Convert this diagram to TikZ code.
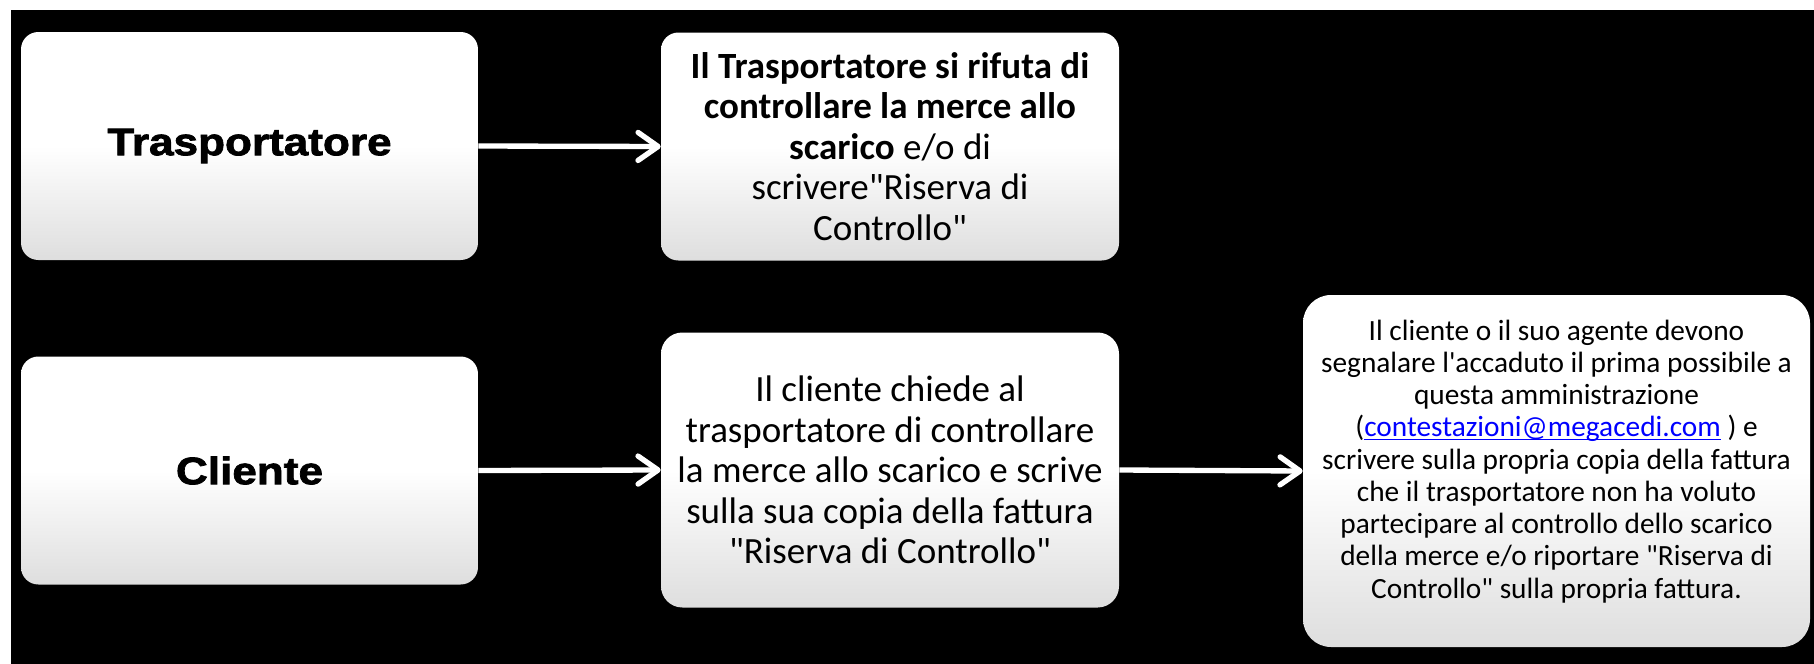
\documentclass[tikz,border=0pt]{standalone}
\usepackage{fontspec}
\setmainfont{Carlito}[Ligatures=TeXOff]
\newfontfamily\heavyfont{Liberation Sans}[FakeStretch=1.15, BoldFeatures={FakeBold=2}]
\usetikzlibrary{arrows.meta}
\definecolor{boxgray}{RGB}{222,222,222}
\definecolor{linkblue}{RGB}{0,0,255}
\newcommand\mailto[1]{{\color{linkblue}\setbox0\hbox{#1}\rlap{\smash{\raisebox{-2.6pt}{\rule{\wd0}{0.9pt}}}}\box0}}

\begin{document}
\begin{tikzpicture}[x=0.75pt, y=-0.75pt,
        box/.style={rounded corners=13pt, top color=white, bottom color=boxgray, middle color=white, inner sep=0pt, align=center, text=black},
        role/.style={box, minimum width=342.75pt, minimum height=171pt, font=\heavyfont\bfseries\fontsize{28.75pt}{33pt}\selectfont},
        fact/.style={box, minimum width=343.5pt, font=\fontsize{27.75pt}{30.3pt}\selectfont},
        note/.style={box, rounded corners=21pt, minimum width=380.25pt, minimum height=264pt, font=\fontsize{22pt}{24.2pt}\selectfont},
        flow/.style={white, line width=4pt, -{Straight Barb[length=15pt, width=21pt, round]}}
      ]

    \useasboundingbox (0,0) rectangle (1814,664);
    \fill[white] (0,0) rectangle (1814,664);
    \fill[black] (11,10) rectangle (1814,664);

    \node[role] (trasp) at (249.5,146) {Trasportatore};
    \node[role] (cliente) at (249.5,470.5) {Cliente};

    \node[fact, minimum height=171pt] (rifiuto) at (890,146.5)
      {\textbf{Il Trasportatore si rifuta di}\\
       \textbf{controllare la merce allo}\\
       \textbf{scarico} e/o di\\
       scrivere"Riserva di\\
       Controllo"};
    \node[fact, minimum height=206.25pt, rounded corners=16pt] (riserva) at (890,470)
      {Il cliente chiede al\\
       trasportatore di controllare\\
       la merce allo scarico e scrive\\
       sulla sua copia della fattura\\
       "Riserva di Controllo"};
    \node[note] (avviso) at (1556.5,471)
      {Il cliente o il suo agente devono\\
       segnalare l'accaduto il prima possibile a\\
       questa amministrazione\\
       (\mailto{contestazioni@megacedi.com} ) e\\
       scrivere sulla propria copia della fattura\\
       che il trasportatore non ha voluto\\
       partecipare al controllo dello scarico\\
       della merce e/o riportare "Riserva di\\
       Controllo" sulla propria fattura.\rule[-18pt]{0pt}{0pt}};

    \draw[flow] (trasp.east) -- (rifiuto.west);
    \draw[flow] (cliente.east) -- (riserva.west);
    \draw[flow] (riserva.east) -- (avviso.west);

\end{tikzpicture}
\end{document}
